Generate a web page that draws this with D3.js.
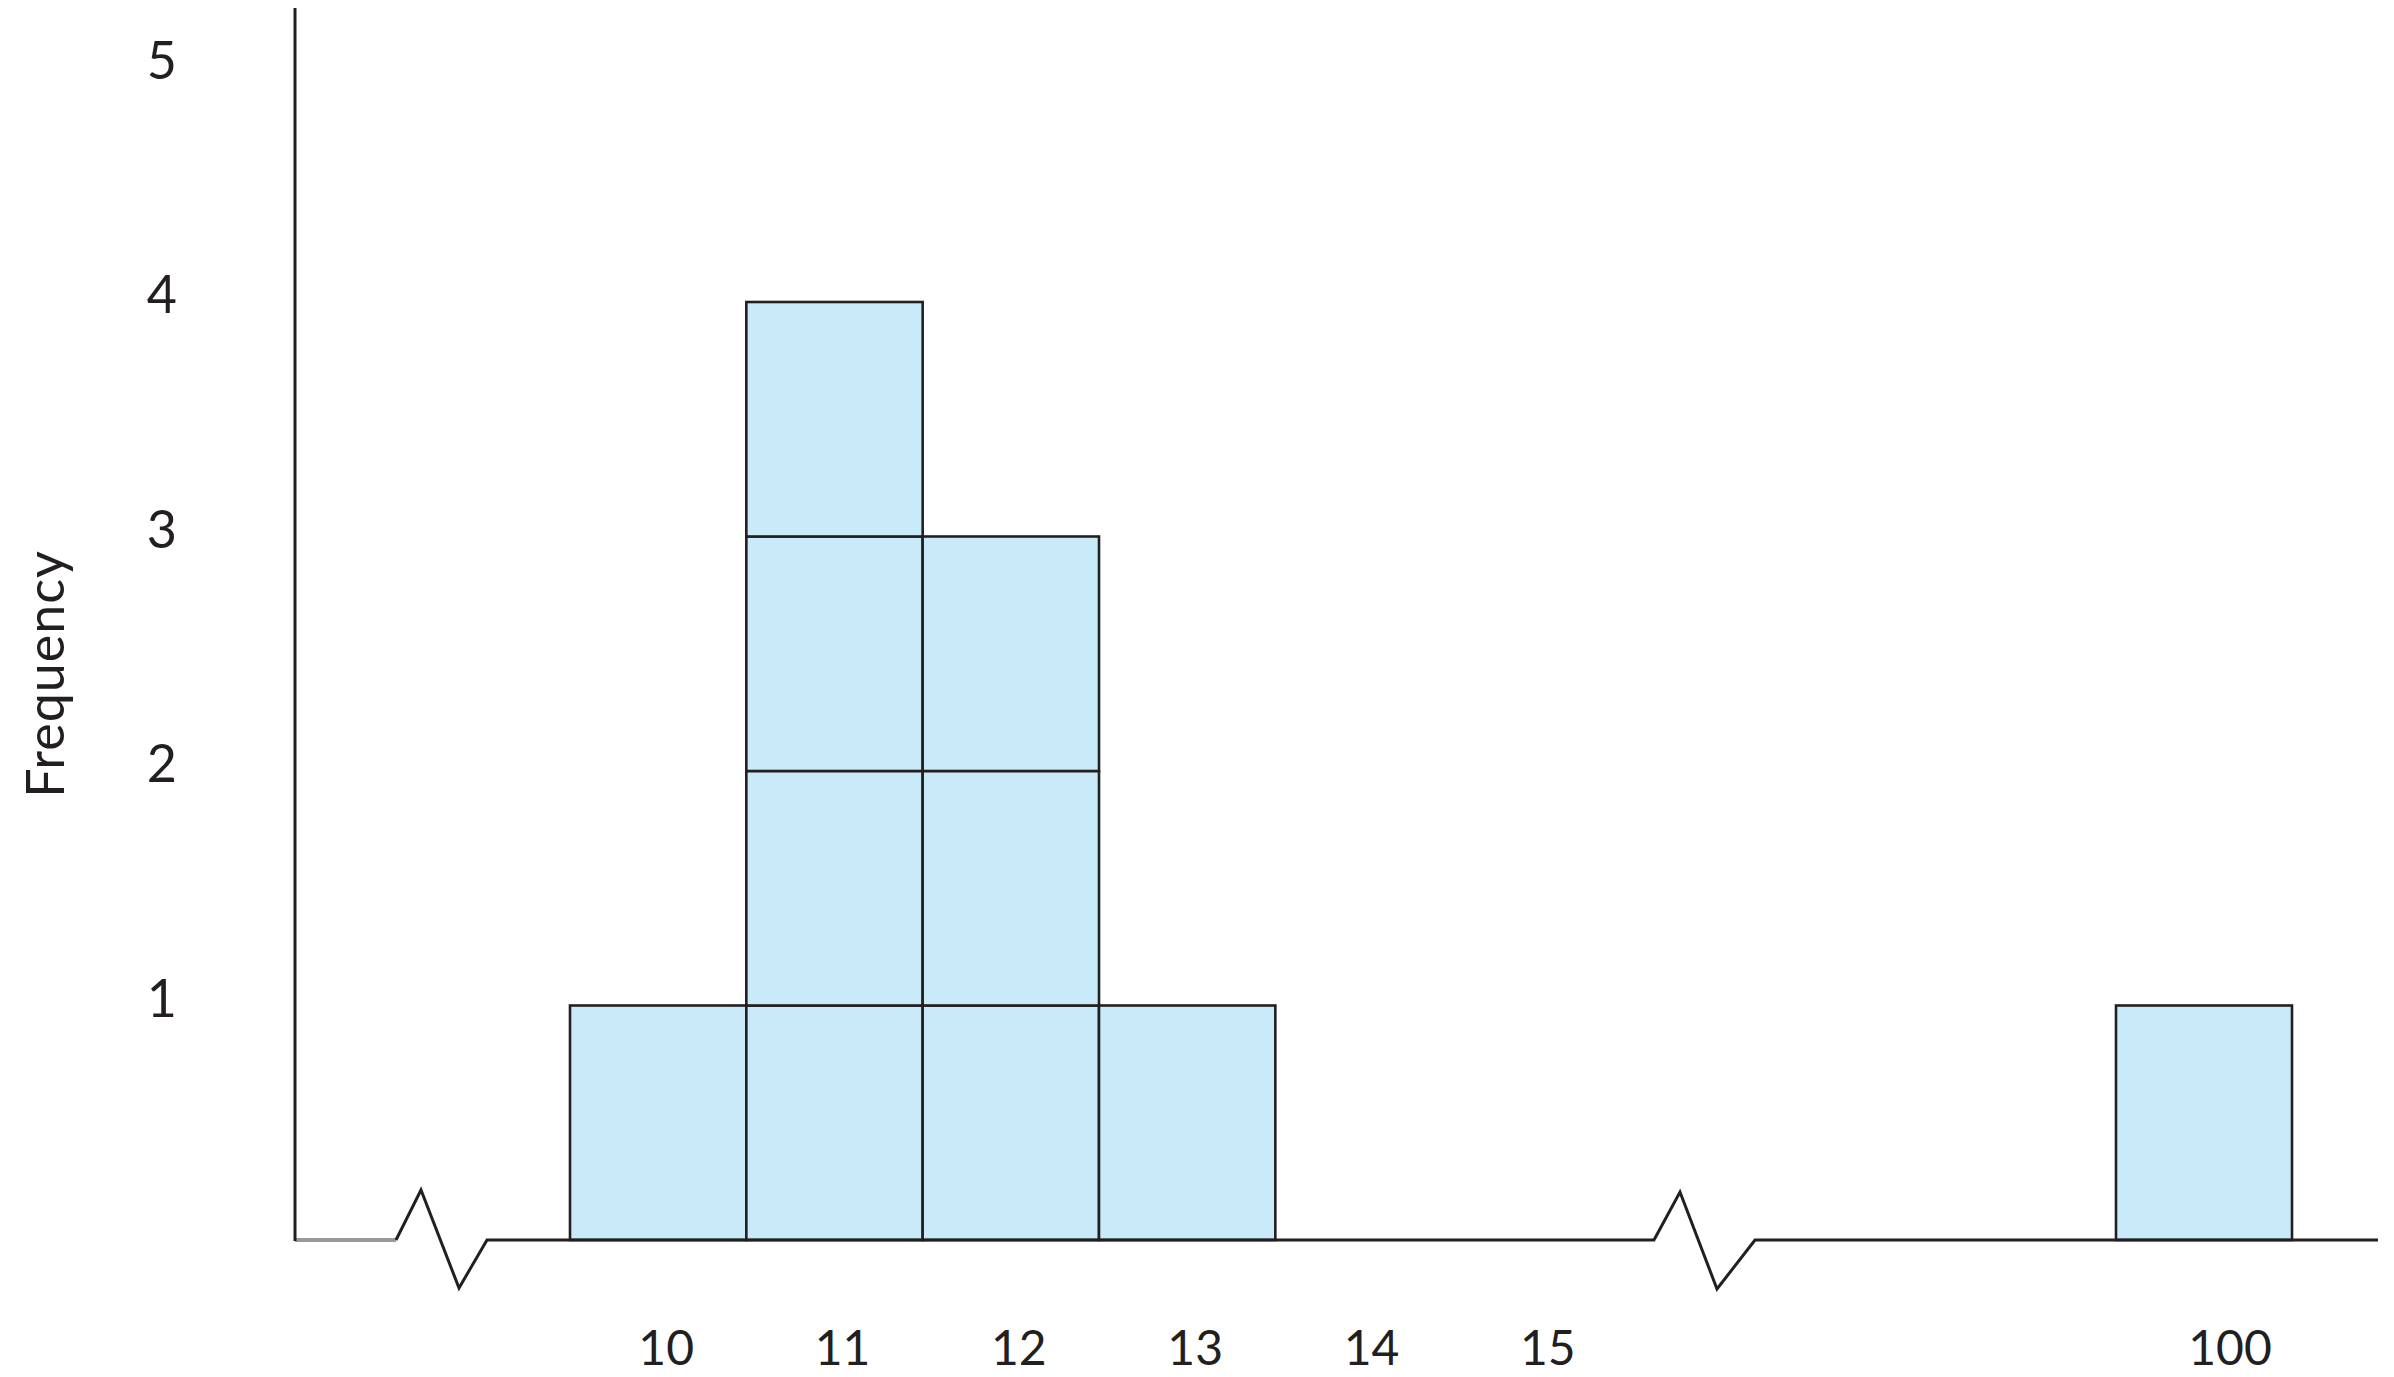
<!DOCTYPE html>
<html>
<head>
<meta charset="utf-8">
<script src="https://cdn.jsdelivr.net/npm/d3@7"></script>
<style>
  body { margin: 0; background: #fff; }
  text { font-family: Lato, "Noto Sans", sans-serif; fill: #231f20; }
</style>
</head>
<body>
<svg id="chart"></svg>
<script>
// values on the x axis and how often they occur
const waardes = [10, 11, 12, 13, 100]
const frequenties = [1, 4, 3, 1, 1]
const xTicks = [10, 11, 12, 13, 14, 15, 100]
const yTicks = [1, 2, 3, 4, 5]

const width = 2394
const height = 1377
const baseY = 1240
const axisX = 295

const svg = d3.select('#chart')
  .attr('width', width)
  .attr('height', height)

// broken x axis: 10..15 then a gap to 100
const x = d3.scaleLinear()
  .domain([9.5, 15.5, 99.5, 100.5])
  .range([570, 1628, 2116, 2292])

const y = d3.scaleLinear()
  .domain([0, 5])
  .range([baseY, baseY - 5 * 234.5])

// one cell per observation, stacked
const cellen = []
waardes.forEach((w, i) => {
  for (let k = 0; k < frequenties[i]; k++) cellen.push({ waarde: w, niveau: k })
})

svg.selectAll('.cel')
  .data(cellen)
  .join('rect')
  .attr('class', 'cel')
  .attr('x', (d) => x(d.waarde - 0.5))
  .attr('width', (d) => x(d.waarde + 0.5) - x(d.waarde - 0.5))
  .attr('y', (d) => y(d.niveau + 1))
  .attr('height', (d) => y(d.niveau) - y(d.niveau + 1))
  .style('fill', '#c9eaf9')
  .style('stroke', '#231f20')
  .style('stroke-width', 2.6)

// baseline with the two break marks
svg.append('line')
  .attr('x1', axisX).attr('x2', 396)
  .attr('y1', baseY).attr('y2', baseY)
  .style('stroke', '#999')
  .style('stroke-width', 4)

const lijn = d3.line()
svg.append('path')
  .attr('d', lijn([[396, baseY], [421, 1190], [459, 1288], [487, baseY], [1654, baseY], [1680, 1192], [1717, 1289], [1755, baseY], [2378, baseY]]))
  .style('fill', 'none')
  .style('stroke', '#231f20')
  .style('stroke-width', 3)

// y axis line
svg.append('line')
  .attr('x1', axisX).attr('x2', axisX)
  .attr('y1', 8).attr('y2', baseY + 1)
  .style('stroke', '#231f20')
  .style('stroke-width', 3)

// y tick labels
const yAxis = svg.append('g')
  .attr('transform', `translate(${axisX}, -6)`)
  .call(d3.axisLeft(y).tickValues(yTicks).tickFormat(d3.format('d')).tickSize(0).tickPadding(118))
yAxis.select('.domain').remove()
yAxis.selectAll('text')
  .style('font-family', 'Lato, "Noto Sans", sans-serif')
  .style('font-size', '52px')
  .style('fill', '#231f20')

// x tick labels
svg.selectAll('.xlabel')
  .data(xTicks)
  .join('text')
  .attr('class', 'xlabel')
  .attr('x', (d) => x(d) + (d === 100 ? 26 : 8))
  .attr('y', 1346)
  .attr('text-anchor', 'middle')
  .attr('dominant-baseline', 'central')
  .style('font-size', '48px')
  .text((d) => d)

svg.append('text')
  .attr('transform', 'translate(44, 674) rotate(-90)')
  .attr('text-anchor', 'middle')
  .attr('dominant-baseline', 'central')
  .style('font-size', '52px')
  .style('letter-spacing', '1px')
  .text('Frequency')
</script>
</body>
</html>
